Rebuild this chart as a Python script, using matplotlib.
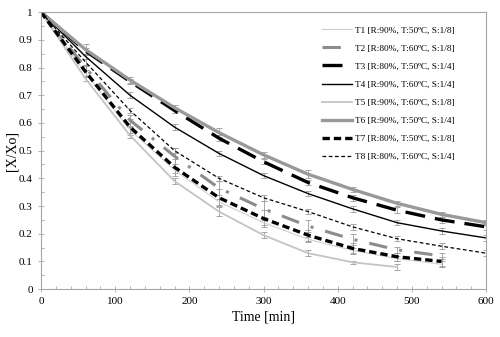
import matplotlib
matplotlib.use("Agg")
import matplotlib.pyplot as plt
from matplotlib.ticker import MultipleLocator

plt.rcParams['font.family'] = ['Liberation Serif', 'DejaVu Serif']

# time points [min]
t = [0, 60, 120, 180, 240, 300, 360, 420, 480, 540, 600]

# X/Xo
t1 = [1, 0.78, 0.575, 0.43, 0.315, 0.24, 0.18, 0.14, 0.11, 0.09]
t2 = [1, 0.80, 0.61, 0.48, 0.365, 0.29, 0.228, 0.18, 0.142, 0.12]
t3 = [1, 0.86, 0.75, 0.645, 0.545, 0.46, 0.385, 0.33, 0.285, 0.25, 0.225]
t4 = [1, 0.84, 0.70, 0.585, 0.49, 0.41, 0.345, 0.29, 0.24, 0.21, 0.185]
t5 = [1, 0.76, 0.555, 0.39, 0.28, 0.195, 0.13, 0.097, 0.08]
t6 = [1, 0.865, 0.755, 0.655, 0.565, 0.485, 0.415, 0.36, 0.31, 0.27, 0.24]
t7 = [1, 0.785, 0.585, 0.44, 0.33, 0.255, 0.195, 0.147, 0.117, 0.10]
t8 = [1, 0.82, 0.645, 0.50, 0.40, 0.33, 0.28, 0.225, 0.182, 0.155, 0.13]

# error bar half-widths
e1 = [0, 0.01, 0.01, 0.01, 0.01, 0.01, 0.01, 0.01, 0.01, 0.01]
e2 = [0, 0.01, 0.02, 0.03, 0.025, 0.03, 0.02, 0.02, 0.01, 0.01]
e3 = [0, 0.01, 0.01, 0.01, 0.01, 0.01, 0.01, 0.01, 0.01, 0.01, 0.01]
e4 = [0, 0.01, 0.01, 0.01, 0.01, 0.01, 0.01, 0.01, 0.01, 0.01, 0.01]
e5 = [0, 0.01, 0.01, 0.01, 0.015, 0.01, 0.01, 0.005, 0.01]
e6 = [0, 0.02, 0.01, 0.01, 0.015, 0.01, 0.015, 0.01, 0.01, 0.01, 0.01]
e7 = [0, 0.02, 0.03, 0.03, 0.03, 0.03, 0.02, 0.02, 0.015, 0.015]
e8 = [0, 0.01, 0.01, 0.01, 0.01, 0.01, 0.01, 0.01, 0.01, 0.01, 0.01]

labels = ["T1 [R:90%, T:50ºC, S:1/8]",
          "T2 [R:80%, T:60ºC, S:1/8]",
          "T3 [R:80%, T:50ºC, S:1/4]",
          "T4 [R:90%, T:60ºC, S:1/4]",
          "T5 [R:90%, T:60ºC, S:1/8]",
          "T6 [R:90%, T:50ºC, S:1/4]",
          "T7 [R:80%, T:50ºC, S:1/8]",
          "T8 [R:80%, T:60ºC, S:1/4]"]

series = [t1, t2, t3, t4, t5, t6, t7, t8]
errs = [e1, e2, e3, e4, e5, e6, e7, e8]
styles = [
    dict(color='#cfcfcf', lw=0.8, ls='-'),
    dict(color='#8c8c8c', lw=2.2, ls=(0, (6, 4, 1, 4))),
    dict(color='black', lw=2.4, ls=(0, (6, 3))),
    dict(color='black', lw=1.0, ls='-'),
    dict(color='#c4c4c4', lw=1.3, ls='-'),
    dict(color='#999999', lw=2.4, ls='-'),
    dict(color='black', lw=2.4, ls=(0, (2.2, 1.2))),
    dict(color='black', lw=0.9, ls=(0, (3, 2))),
]

fig = plt.figure(figsize=(5, 3.37), dpi=100)
ax = fig.add_axes([0.082, 0.142, 0.89, 0.822])

for y, e, lab, st in zip(series, errs, labels, styles):
    x = t[:len(y)]
    ax.errorbar(x, y, yerr=e, fmt='none', ecolor='#9a9a9a', elinewidth=0.6,
                capsize=2.5, capthick=0.6, zorder=1)
    ax.plot(x, y, label=lab, zorder=2, **st)

ax.set_xlim(0, 600)
ax.set_ylim(0, 1)
ax.xaxis.set_major_locator(MultipleLocator(100))
ax.xaxis.set_minor_locator(MultipleLocator(20))
ax.yaxis.set_major_locator(MultipleLocator(0.1))
ax.yaxis.set_minor_locator(MultipleLocator(0.05))
ax.yaxis.set_major_formatter(plt.FuncFormatter(
    lambda v, p: '0' if abs(v) < 1e-9 else ('1' if abs(v - 1) < 1e-9 else f'{v:.1f}')))

for s in ax.spines.values():
    s.set_color('#a6a6a6')
    s.set_linewidth(0.8)
ax.tick_params(which='major', direction='inout', length=5, width=0.6,
               color='#a6a6a6', labelsize=8)
ax.tick_params(which='minor', direction='in', length=2.5, width=0.6,
               color='#a6a6a6')

ax.set_xlabel('Time [min]', fontsize=10, labelpad=3)
ax.set_ylabel('[X/Xo]', fontsize=10)
ax.yaxis.set_label_coords(-0.05, 0.5)

ax.legend(loc='upper left', bbox_to_anchor=(0.631, 0.95), frameon=False,
          fontsize=6.7, handlelength=3.2, handletextpad=0.35,
          labelspacing=1.03, borderpad=0, borderaxespad=0)

fig.savefig('out.png', dpi=100)
